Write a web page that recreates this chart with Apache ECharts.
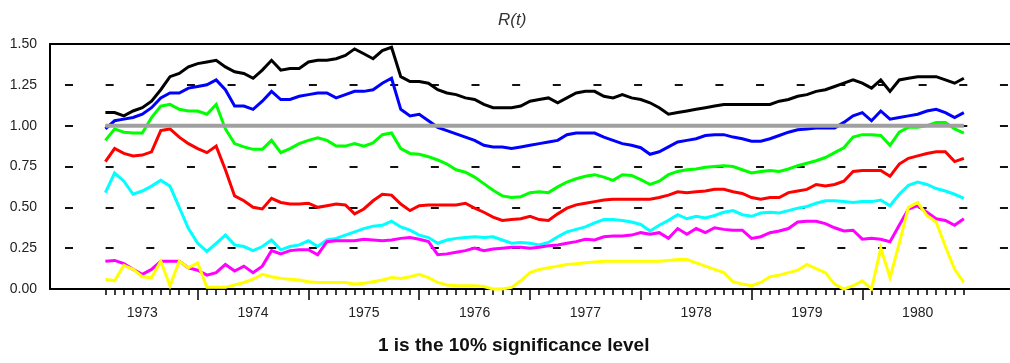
<!DOCTYPE html>
<html>
<head>
<meta charset="utf-8">
<script src="https://cdn.jsdelivr.net/npm/echarts@6/dist/echarts.min.js"></script>
<style>
html,body{margin:0;padding:0;background:#fff;}
#chart{width:1010px;height:363px;}
</style>
</head>
<body>
<div id="chart"></div>
<script>
// Monthly axis from 1972M09 to 1981M05; data 1973M03 .. 1980M12
const axisStartYear = 1972, axisStartMonth = 9, axisMonths = 105;
const dataStart = '1973M03';
const yearLabels = ['1973','1974','1975','1976','1977','1978','1979','1980'];
const yTicks = [0, 0.25, 0.5, 0.75, 1.0, 1.25, 1.5];

const black = [
1.08,1.08,1.06,1.09,1.11,1.15,1.22,1.30,1.32,1.36,
1.38,1.39,1.40,1.36,1.33,1.32,1.29,1.34,1.40,1.34,
1.35,1.35,1.39,1.40,1.40,1.41,1.43,1.47,1.44,1.41,
1.46,1.48,1.30,1.27,1.27,1.26,1.22,1.20,1.19,1.17,
1.16,1.13,1.11,1.11,1.11,1.12,1.15,1.16,1.17,1.14,
1.17,1.20,1.21,1.21,1.18,1.17,1.19,1.17,1.16,1.14,
1.11,1.07,1.08,1.09,1.10,1.11,1.12,1.13,1.13,1.13,
1.13,1.13,1.13,1.15,1.16,1.18,1.19,1.21,1.22,1.24,
1.26,1.28,1.26,1.23,1.28,1.21,1.28,1.29,1.30,1.30,
1.30,1.28,1.26,1.29];
const blue = [
0.98,1.03,1.04,1.05,1.07,1.11,1.17,1.20,1.20,1.23,
1.24,1.25,1.28,1.22,1.12,1.12,1.10,1.15,1.21,1.16,
1.16,1.18,1.19,1.20,1.20,1.17,1.19,1.21,1.21,1.22,
1.26,1.29,1.10,1.06,1.07,1.03,0.99,0.97,0.95,0.93,
0.91,0.88,0.87,0.87,0.86,0.87,0.88,0.89,0.90,0.91,
0.945,0.955,0.955,0.955,0.93,0.91,0.89,0.88,0.865,0.825,
0.84,0.87,0.90,0.91,0.92,0.94,0.945,0.945,0.93,0.92,
0.905,0.905,0.92,0.94,0.96,0.975,0.98,0.985,0.985,0.985,
1.02,1.06,1.08,1.03,1.09,1.04,1.05,1.06,1.07,1.09,
1.10,1.08,1.05,1.08];
const green = [
0.91,0.98,0.96,0.955,0.955,1.05,1.12,1.13,1.10,1.09,
1.09,1.07,1.13,0.98,0.89,0.87,0.855,0.855,0.91,0.835,
0.86,0.89,0.91,0.925,0.91,0.875,0.875,0.89,0.875,0.895,
0.945,0.955,0.86,0.83,0.825,0.81,0.79,0.765,0.73,0.715,
0.685,0.645,0.605,0.57,0.56,0.565,0.59,0.595,0.59,0.625,
0.655,0.675,0.69,0.70,0.685,0.665,0.70,0.695,0.67,0.64,
0.66,0.70,0.72,0.73,0.735,0.745,0.75,0.755,0.75,0.73,
0.71,0.72,0.725,0.72,0.735,0.755,0.77,0.785,0.805,0.835,
0.865,0.93,0.945,0.945,0.94,0.88,0.96,0.99,0.99,1.00,
1.02,1.02,0.98,0.955];
const red = [
0.78,0.86,0.83,0.815,0.82,0.84,0.97,0.98,0.93,0.89,
0.86,0.835,0.875,0.73,0.57,0.54,0.50,0.49,0.555,0.53,
0.52,0.52,0.525,0.50,0.51,0.52,0.515,0.46,0.49,0.54,
0.58,0.575,0.52,0.48,0.51,0.515,0.515,0.515,0.515,0.525,
0.495,0.47,0.44,0.42,0.425,0.43,0.445,0.425,0.42,0.46,
0.495,0.515,0.525,0.535,0.545,0.55,0.55,0.55,0.55,0.55,
0.56,0.575,0.595,0.59,0.595,0.60,0.61,0.61,0.595,0.585,
0.56,0.55,0.56,0.56,0.59,0.60,0.61,0.64,0.63,0.64,
0.66,0.72,0.725,0.725,0.725,0.69,0.765,0.80,0.815,0.83,
0.84,0.84,0.78,0.80];
const cyan = [
0.59,0.71,0.66,0.58,0.60,0.63,0.665,0.63,0.50,0.37,
0.28,0.23,0.28,0.33,0.27,0.26,0.235,0.26,0.30,0.24,
0.26,0.27,0.295,0.26,0.30,0.31,0.33,0.35,0.37,0.385,
0.39,0.415,0.38,0.36,0.33,0.315,0.28,0.30,0.31,0.315,
0.32,0.315,0.32,0.30,0.28,0.285,0.28,0.27,0.285,0.32,
0.35,0.365,0.38,0.405,0.425,0.425,0.42,0.41,0.395,0.355,
0.39,0.42,0.455,0.43,0.445,0.435,0.45,0.47,0.48,0.455,
0.445,0.465,0.47,0.465,0.48,0.495,0.505,0.525,0.54,0.54,
0.535,0.53,0.535,0.535,0.545,0.51,0.58,0.635,0.655,0.64,
0.615,0.60,0.58,0.555];
const magenta = [
0.17,0.175,0.155,0.12,0.09,0.12,0.17,0.17,0.17,0.13,
0.115,0.085,0.10,0.15,0.11,0.14,0.10,0.14,0.235,0.215,
0.235,0.24,0.24,0.21,0.29,0.295,0.295,0.295,0.305,0.30,
0.295,0.30,0.31,0.315,0.305,0.29,0.21,0.215,0.225,0.235,
0.25,0.235,0.245,0.25,0.255,0.255,0.25,0.255,0.265,0.27,
0.28,0.29,0.305,0.30,0.32,0.325,0.325,0.33,0.345,0.335,
0.345,0.31,0.37,0.335,0.37,0.345,0.375,0.365,0.36,0.36,
0.31,0.32,0.345,0.355,0.37,0.41,0.415,0.415,0.40,0.375,
0.355,0.36,0.305,0.31,0.305,0.29,0.39,0.49,0.51,0.47,
0.43,0.42,0.39,0.43];
const yellow = [
0.06,0.05,0.145,0.12,0.075,0.07,0.17,0.02,0.17,0.13,
0.16,0.01,0.01,0.01,0.025,0.04,0.06,0.09,0.075,0.065,
0.06,0.055,0.045,0.04,0.04,0.04,0.04,0.03,0.035,0.045,
0.055,0.07,0.065,0.075,0.09,0.07,0.04,0.025,0.02,0.02,
0.02,0.015,0.0,0.0,0.01,0.05,0.10,0.12,0.13,0.14,
0.15,0.155,0.16,0.165,0.17,0.17,0.17,0.17,0.17,0.17,
0.17,0.175,0.18,0.18,0.16,0.14,0.12,0.10,0.045,0.03,
0.02,0.04,0.075,0.085,0.10,0.115,0.15,0.125,0.10,0.03,
0.0,0.02,0.05,0.0,0.25,0.07,0.28,0.50,0.53,0.45,
0.41,0.26,0.12,0.04];
const level = 1.0; // 10% significance level

// build monthly categories
const categories = [];
for (let k = 0; k < axisMonths; k++) {
  const m = axisStartMonth - 1 + k;
  const y = axisStartYear + Math.floor(m / 12);
  const mo = (m % 12) + 1;
  categories.push(y + 'M' + String(mo).padStart(2, '0'));
}
const startIdx = categories.indexOf(dataStart);
const endIdx = startIdx + black.length - 1;
const monthOf = c => parseInt(c.slice(5), 10);
const toPairs = arr => arr.map((v, i) => [i + startIdx, v]);

const FONT = "'Liberation Sans', Arial, sans-serif";

function line(name, data, color, width, z) {
  return {
    name, type: 'line', data: toPairs(data), xAxisIndex: 0,
    showSymbol: false, symbol: 'none', clip: false, z: z,
    lineStyle: { color, width, join: 'miter', cap: 'butt' },
    emphasis: { disabled: true }, silent: true, animation: false
  };
}

const chart = echarts.init(document.getElementById('chart'), null, { renderer: 'canvas' });
chart.setOption({
  backgroundColor: '#ffffff',
  animation: false,
  title: [
    { text: 'R(t)', left: 498, top: 11, padding: 0,
      textStyle: { fontFamily: FONT, fontSize: 17, fontStyle: 'italic', fontWeight: 'normal', color: '#333', lineHeight: 18 } },
    { text: '1 is the 10% significance level', left: 378, top: 336, padding: 0,
      textStyle: { fontFamily: FONT, fontSize: 19, fontWeight: 'bold', color: '#111', lineHeight: 20 } }
  ],
  grid: { left: 50, right: 0, top: 44, bottom: 74, containLabel: false },
  xAxis: [
    { type: 'category', data: categories, boundaryGap: false, position: 'bottom',
      axisLine: { show: true, lineStyle: { color: '#000', width: 2 } },
      axisTick: { show: true, length: 6, interval: (i) => i >= startIdx && i <= endIdx,
                  lineStyle: { color: '#000', width: 1.5 } },
      axisLabel: { show: false }, splitLine: { show: false } },
    { type: 'category', data: categories, boundaryGap: false, position: 'bottom',
      axisLine: { show: false },
      axisTick: { show: true, length: 11,
                  interval: (i, c) => i >= startIdx && i <= endIdx && monthOf(c) === 1,
                  lineStyle: { color: '#000', width: 1.5 } },
      axisLabel: { show: true, margin: 17,
                   interval: (i, c) => monthOf(c) === 7 && yearLabels.indexOf(c.slice(0, 4)) >= 0,
                   formatter: (c) => yearLabels[yearLabels.indexOf(c.slice(0, 4))],
                   fontFamily: FONT, fontSize: 14, color: '#222' },
      splitLine: { show: false } },
    { type: 'category', data: categories, boundaryGap: false, position: 'top',
      axisLine: { show: true, lineStyle: { color: '#000', width: 2 } },
      axisTick: { show: false }, axisLabel: { show: false }, splitLine: { show: false } }
  ],
  yAxis: {
    type: 'value', min: yTicks[0], max: yTicks[yTicks.length - 1], interval: 0.25,
    axisLine: { show: true, lineStyle: { color: '#000', width: 2 } },
    axisTick: { show: false },
    axisLabel: { margin: 13, fontFamily: FONT, fontSize: 14, color: '#222',
                 formatter: v => v.toFixed(2) },
    splitLine: { show: true, lineStyle: { color: '#111', width: 2, type: [8, 32.65], dashOffset: 25.65 } }
  },
  series: [
    line('S1', black, '#000000', 3, 2),
    line('S2', blue, '#0000ff', 3, 2),
    line('S3', green, '#00ff00', 3, 2),
    line('S4', red, '#ff0000', 3, 2),
    line('S5', cyan, '#00ffff', 3, 2),
    line('S6', magenta, '#ff00ff', 3, 2),
    line('S7', yellow, '#ffff00', 3, 2),
    line('Level', black.map(() => level), '#a0a0a0', 4, 3)
  ]
});
</script>
</body>
</html>
